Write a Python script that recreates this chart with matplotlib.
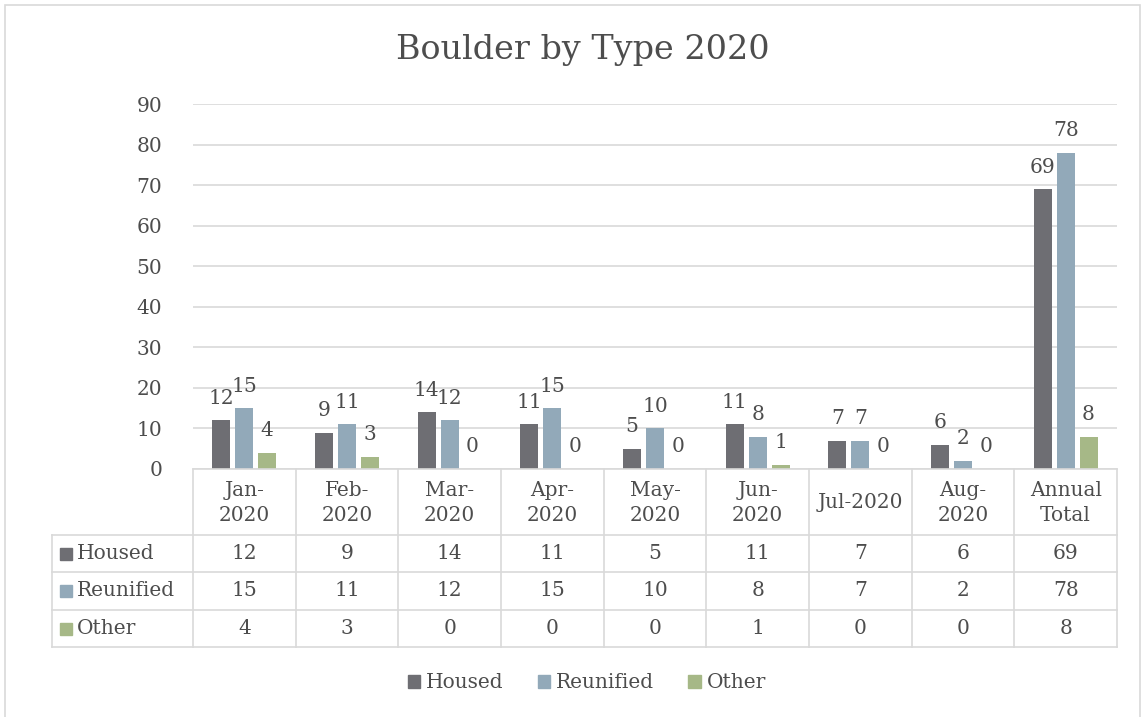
import numpy as np
import matplotlib.pyplot as plt
from matplotlib.patches import Rectangle
from matplotlib.lines import Line2D

# data
categories = ['Jan-\n2020', 'Feb-\n2020', 'Mar-\n2020', 'Apr-\n2020', 'May-\n2020',
              'Jun-\n2020', 'Jul-2020', 'Aug-\n2020', 'Annual\nTotal']
series_names = ['Housed', 'Reunified', 'Other']
housed = [12, 9, 14, 11, 5, 11, 7, 6, 69]
reunified = [15, 11, 12, 15, 10, 8, 7, 2, 78]
other = [4, 3, 0, 0, 0, 1, 0, 0, 8]
yticks = [0, 10, 20, 30, 40, 50, 60, 70, 80, 90]

colors = ['#6e6e73', '#92a9b9', '#a6b887']
txt = '#4d4d4d'
grid = '#d9d9d9'
fs = 14.5
plt.rcParams['font.family'] = ['DejaVu Serif']

W, H = 1146, 717
fig = plt.figure(figsize=(W / 100, H / 100), dpi=100)

def fx(px):
    return px / W

def fy(py):
    return 1 - py / H

# outer border
fig.patches.append(Rectangle((fx(5), fy(722)), fx(1140) - fx(5), fy(5) - fy(722),
                             transform=fig.transFigure, fill=False, ec='#d9d9d9', lw=1.2))

left, right, top, bottom = 193, 1117, 104, 469
ax = fig.add_axes([fx(left), fy(bottom), fx(right) - fx(left), fy(top) - fy(bottom)])
ax.set_xlim(-0.5, len(categories) - 0.5)
ax.set_ylim(0, 90)
ax.set_yticks(yticks)
ax.set_yticklabels([str(v) for v in yticks], fontsize=fs, color=txt)
ax.tick_params(axis='y', length=0, pad=22)
ax.set_xticks([])
for s in ax.spines.values():
    s.set_visible(False)
ax.grid(axis='y', color=grid, lw=1.2)
ax.set_axisbelow(True)

x = np.arange(len(categories))
bw = 0.175
off = 0.223
for i, (vals, c) in enumerate(zip([housed, reunified, other], colors)):
    pos = x + (i - 1) * off
    ax.bar(pos, vals, width=bw, color=c, zorder=3)
    for p, v in zip(pos, vals):
        ax.annotate(str(v), (p, v), xytext=(0, 9), textcoords='offset points',
                    ha='center', va='bottom', fontsize=fs, color=txt)

# title
fig.text(fx(583), fy(50), 'Boulder by Type 2020', ha='center', va='center',
         fontsize=24, color=txt)

# data table below
cw = (right - left) / len(categories)
rows_y = [469, 535, 572, 610, 647]
tleft = 52
lw = 1.2
fig.add_artist(Line2D([fx(left), fx(right)], [fy(rows_y[0])] * 2, color=grid, lw=lw))
for yy in rows_y[1:]:
    fig.add_artist(Line2D([fx(tleft), fx(right)], [fy(yy)] * 2, color=grid, lw=lw))
for k in range(len(categories) + 1):
    xx = left + k * cw
    fig.add_artist(Line2D([fx(xx)] * 2, [fy(rows_y[0]), fy(rows_y[-1])], color=grid, lw=lw))
fig.add_artist(Line2D([fx(tleft)] * 2, [fy(rows_y[1]), fy(rows_y[-1])], color=grid, lw=lw))

for k, cat in enumerate(categories):
    cx = left + (k + 0.5) * cw
    fig.text(fx(cx), fy((rows_y[0] + rows_y[1]) / 2 + 1), cat, ha='center', va='center',
             fontsize=fs, color=txt, linespacing=1.4)

for r, (name, vals, c) in enumerate(zip(series_names, [housed, reunified, other], colors)):
    yc = (rows_y[r + 1] + rows_y[r + 2]) / 2
    fig.patches.append(Rectangle((fx(60), fy(yc + 6)), fx(12), fx(12) * W / H,
                                 transform=fig.transFigure, color=c))
    fig.text(fx(77), fy(yc), name, ha='left', va='center', fontsize=fs, color=txt)
    for k, v in enumerate(vals):
        cx = left + (k + 0.5) * cw
        fig.text(fx(cx), fy(yc), str(v), ha='center', va='center', fontsize=fs, color=txt)

# legend
handles = [Rectangle((0, 0), 1, 1, color=c) for c in colors]
fig.legend(handles, series_names, loc='center', bbox_to_anchor=(fx(587), fy(683)),
           ncol=3, frameon=False, fontsize=fs, handlelength=0.6, handleheight=0.6,
           handletextpad=0.3, columnspacing=1.7, labelcolor=txt)

fig.savefig('out.png', dpi=100)
